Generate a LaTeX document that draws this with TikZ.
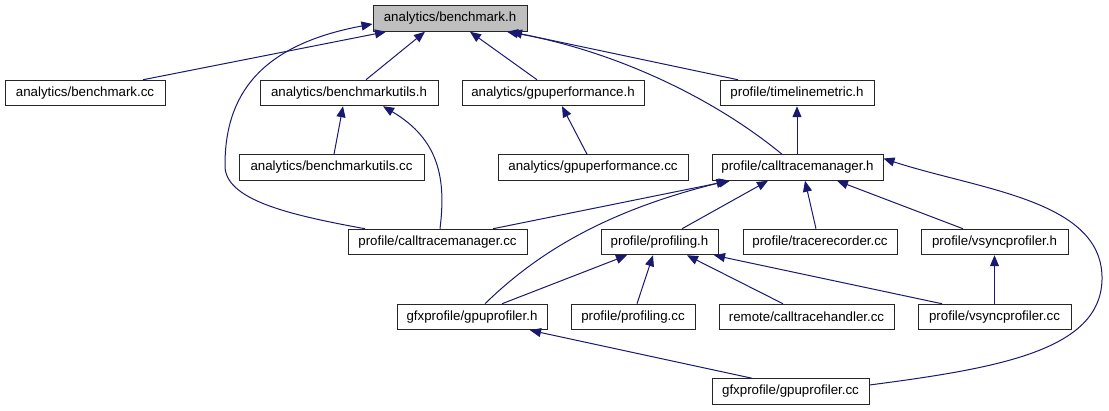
\documentclass[tikz,border=0pt]{standalone}
\usepackage{fontspec}
\setmainfont{Liberation Sans}
\usetikzlibrary{arrows.meta}
\definecolor{edgeblue}{HTML}{191970}
\definecolor{rootgray}{HTML}{BFBFBF}
\tikzset{
  filebox/.style={draw=black!85, line width=1pt, rectangle, inner sep=0pt,
    minimum height=25.5pt, font=\fontsize{13.3}{16}\selectfont, fill=white},
  rootbox/.style={filebox, fill=rootgray},
  dep/.style={draw=edgeblue, line width=1pt, -{Triangle[length=11pt,width=9pt]}, edgeblue}
}
\begin{document}
\begin{tikzpicture}[x=1pt,y=-1pt]
\useasboundingbox (0,0) rectangle (1109,411);
% row 1
\node[rootbox, minimum width=154pt] (bh) at (450,18.5) {analytics/benchmark.h};
% row 2
\node[filebox, minimum width=160pt] (bcc) at (85,93) {analytics/benchmark.cc};
\node[filebox, minimum width=178pt] (buh) at (349,93) {analytics/benchmarkutils.h};
\node[filebox, minimum width=182pt] (gph) at (553,93) {analytics/gpuperformance.h};
\node[filebox, minimum width=154pt] (tmh) at (797,93) {profile/timelinemetric.h};
% row 3
\node[filebox, minimum width=185pt] (bucc) at (331.5,167.5) {analytics/benchmarkutils.cc};
\node[filebox, minimum width=190pt] (gpcc) at (593,167.5) {analytics/gpuperformance.cc};
\node[filebox, minimum width=171pt] (cmh) at (797.5,167.5) {profile/calltracemanager.h};
% row 4
\node[filebox, minimum width=179pt] (cmcc) at (437.5,242) {profile/calltracemanager.cc};
\node[filebox, minimum width=117pt] (prh) at (659.5,242) {profile/profiling.h};
\node[filebox, minimum width=154pt] (trcc) at (820,242) {profile/tracerecorder.cc};
\node[filebox, minimum width=147pt] (vsh) at (994.5,242) {profile/vsyncprofiler.h};
% row 5
\node[filebox, minimum width=150pt] (guh) at (472,317) {gfxprofile/gpuprofiler.h};
\node[filebox, minimum width=124pt] (prcc) at (633,317) {profile/profiling.cc};
\node[filebox, minimum width=175pt] (cthcc) at (806.5,317) {remote/calltracehandler.cc};
\node[filebox, minimum width=153pt] (vscc) at (994.5,317) {profile/vsyncprofiler.cc};
% row 6
\node[filebox, minimum width=157pt] (gucc) at (790.5,391.5) {gfxprofile/gpuprofiler.cc};

% edges to benchmark.h
\draw[dep] ([xshift=58pt]bcc.north) -- ([xshift=-64pt]bh.south);
\draw[dep] ([xshift=-72.5pt]cmcc.north) .. controls (290,215) and (224,200) .. (225,165)
   .. controls (225,95) and (260,45) .. ([yshift=-5.5pt]bh.west);
\draw[dep] ([xshift=17pt]buh.north) -- ([xshift=-25pt]bh.south);
\draw[dep] ([xshift=-16pt]gph.north) -- ([xshift=20pt]bh.south);
\draw[dep] ([xshift=-15.5pt]cmh.north) .. controls (710,95) and (610,50) .. ([xshift=57pt]bh.south);
\draw[dep] ([xshift=-59pt]tmh.north) -- ([xshift=61pt]bh.south);
% edges to benchmarkutils.h
\draw[dep] ([xshift=2.5pt]bucc.north) -- ([xshift=-6pt]buh.south);
\draw[dep] ([xshift=2.5pt]cmcc.north) .. controls (446,180) and (440,140) .. ([xshift=34pt]buh.south);
% gpuperformance
\draw[dep] ([xshift=-6pt]gpcc.north) -- ([xshift=9pt]gph.south);
% timelinemetric
\draw[dep] ([xshift=-0.5pt]cmh.north) -- (tmh.south);
% edges to calltracemanager.h
\draw[dep] ([xshift=55.5pt]cmcc.north) -- ([xshift=-67.5pt]cmh.south);
\draw[dep] ([xshift=13pt]guh.north) .. controls (540,250) and (610,210) .. ([xshift=-70pt]cmh.south);
\draw[dep] ([xshift=22.5pt]prh.north) -- ([xshift=-29.5pt]cmh.south);
\draw[dep] ([xshift=-4pt]trcc.north) -- ([xshift=7.5pt]cmh.south);
\draw[dep] ([xshift=-31.5pt]vsh.north) -- ([xshift=39.5pt]cmh.south);
\draw[dep] ([yshift=6.5pt]gucc.east) .. controls (1000,368) and (1100,350) .. (1102,280)
   .. controls (1104,200) and (980,190) .. ([yshift=9pt]cmh.east);
% edges to profiling.h
\draw[dep] ([xshift=30pt]guh.north) -- ([xshift=-32.5pt]prh.south);
\draw[dep] ([xshift=4pt]prcc.north) -- ([xshift=-6.5pt]prh.south);
\draw[dep] ([xshift=-23.5pt]cthcc.north) -- ([xshift=27.5pt]prh.south);
\draw[dep] ([xshift=-52.5pt]vscc.north) -- ([xshift=54.5pt]prh.south);
% vsyncprofiler
\draw[dep] (vscc.north) -- (vsh.south);
% gpuprofiler
\draw[dep] ([xshift=-38.5pt]gucc.north) -- ([xshift=58pt]guh.south);
\end{tikzpicture}
\end{document}
